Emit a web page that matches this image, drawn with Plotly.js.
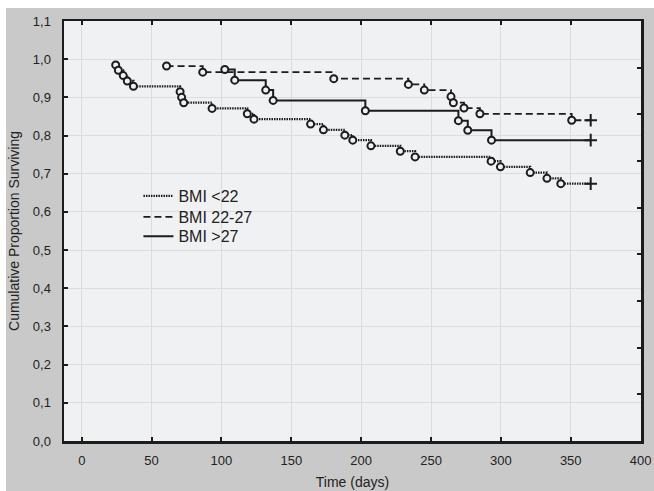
<!DOCTYPE html>
<html>
<head>
<meta charset="utf-8">
<script src="https://cdn.plot.ly/plotly-3.0.1.min.js"></script>
<style>
  html, body { margin: 0; padding: 0; background: #ffffff; }
  #chart { position: absolute; left: 6px; top: 8px; width: 648px; height: 483px; }
</style>
</head>
<body>
<div id="chart"></div>
<script>
// Series names
const seriesNames = ["BMI <22", "BMI 22-27", "BMI >27"];

// Event times (days) and cumulative proportion surviving after each event
const lowTimes = [24.3, 26.2, 29.7, 32.6, 37.0, 70.4, 71.5, 73.0, 93.3, 118.5, 123.3, 163.8, 173.0, 188.3, 194.0, 207.0, 228.0, 238.6, 293.0, 299.7, 321.0, 333.0, 342.9];
const lowSurv  = [0.985, 0.971, 0.957, 0.943, 0.929, 0.915, 0.900, 0.886, 0.871, 0.857, 0.843, 0.830, 0.815, 0.801, 0.788, 0.773, 0.759, 0.744, 0.733, 0.718, 0.703, 0.688, 0.674];

const midTimes = [60.7, 86.6, 180.4, 233.8, 245.2, 264.3, 266.0, 273.6, 285.0, 350.7];
const midSurv  = [0.982, 0.966, 0.949, 0.934, 0.919, 0.902, 0.886, 0.872, 0.857, 0.840];

const highTimes = [102.4, 109.5, 131.7, 137.0, 203.0, 269.6, 276.3, 293.3];
const highSurv  = [0.973, 0.945, 0.919, 0.892, 0.865, 0.839, 0.814, 0.788];

// Censoring (end of follow-up) time
const censorTime = 364.3;

// Axis ticks
const xTicks = [0, 50, 100, 150, 200, 250, 300, 350, 400];
const yTicks = [0.0, 0.1, 0.2, 0.3, 0.4, 0.5, 0.6, 0.7, 0.8, 0.9, 1.0, 1.1];

const ink = "#1c1c1c";
const plotBg = "#f0f1f3";
const dashes = ["1.5px,1px", "7px,4px", "solid"];
const widths = [2.2, 1.8, 2];
const legendIds = ["legend", "legend2", "legend3"];
const groups = [
  [lowTimes, lowSurv],
  [midTimes, midSurv],
  [highTimes, highSurv]
];

const traces = [];
groups.forEach((g, i) => {
  const t = g[0], s = g[1];
  traces.push({
    type: "scatter", mode: "lines", name: seriesNames[i], legend: legendIds[i],
    x: t.concat([censorTime]), y: s.concat([s[s.length - 1]]),
    line: { shape: "hv", color: ink, width: widths[i], dash: dashes[i] },
    hoverinfo: "skip", showlegend: true
  });
});
groups.forEach((g, i) => {
  const t = g[0], s = g[1];
  traces.push({
    type: "scatter", mode: "markers", x: t, y: s, showlegend: false, hoverinfo: "skip",
    marker: { symbol: "circle", size: 7, color: plotBg, line: { color: ink, width: 2 } }
  });
  traces.push({
    type: "scatter", mode: "markers", x: [censorTime], y: [s[s.length - 1]], showlegend: false, hoverinfo: "skip",
    marker: { symbol: "cross-thin-open", size: 9, color: ink, line: { color: ink, width: 2 } }
  });
});
// secondary right axis ticks (9 divisions, no labels)
traces.push({ type: "scatter", mode: "markers", x: [null], y: [null], yaxis: "y2", showlegend: false, hoverinfo: "skip" });

function legendAt(y) {
  return {
    x: 0.129, y: y, xanchor: "left", yanchor: "top",
    bgcolor: "rgba(0,0,0,0)", borderwidth: 0,
    font: { size: 16, color: "#222222" }, itemwidth: 30
  };
}

const layout = {
  width: 648, height: 483,
  margin: { l: 58, r: 13, t: 13, b: 50, pad: 0 },
  paper_bgcolor: "#c9c9c9",
  plot_bgcolor: plotBg,
  separators: ",.",
  font: { family: "Liberation Sans, Arial, sans-serif", color: "#222222", size: 13 },
  showlegend: true,
  legend: legendAt(0.624),
  legend2: legendAt(0.574),
  legend3: legendAt(0.528),
  xaxis: {
    range: [-12.7, 400.3], tickvals: xTicks, tickformat: "d",
    showgrid: true, gridcolor: "#dcdcdc", gridwidth: 1, zeroline: false,
    showline: true, linecolor: ink, linewidth: 2.5, mirror: "ticks",
    ticks: "inside", ticklen: 4, tickwidth: 2, tickcolor: ink,
    ticklabelstandoff: 6,
    title: { text: "Time (days)", font: { size: 14 }, standoff: 10 },
    automargin: false, fixedrange: true
  },
  yaxis: {
    range: [0, 1.1], tickvals: yTicks, tickformat: ".1f",
    showgrid: true, gridcolor: "#dcdcdc", gridwidth: 1, zeroline: false,
    showline: true, linecolor: ink, linewidth: 2.5, mirror: true,
    ticks: "inside", ticklen: 4, tickwidth: 2, tickcolor: ink,
    ticklabelstandoff: 8,
    title: { text: "Cumulative Proportion Surviving", font: { size: 14 }, standoff: 12 },
    automargin: false, fixedrange: true
  },
  yaxis2: {
    overlaying: "y", side: "right", range: [0, 9], dtick: 1,
    showgrid: false, zeroline: false, showline: false, showticklabels: false,
    ticks: "inside", ticklen: 4, tickwidth: 2, tickcolor: ink, fixedrange: true
  }
};

Plotly.newPlot("chart", traces, layout, { staticPlot: true, displayModeBar: false });
</script>
</body>
</html>
